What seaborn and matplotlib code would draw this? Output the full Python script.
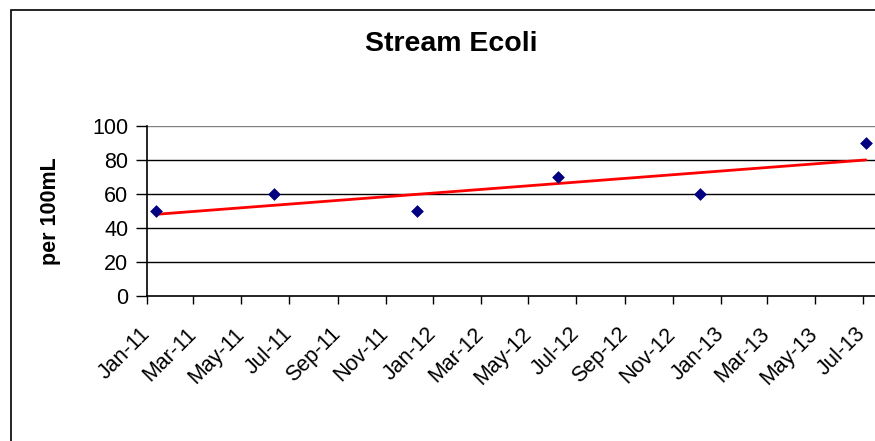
"""Stream Ecoli scatter with linear trendline, Excel style."""

import matplotlib

matplotlib.use("Agg")

import matplotlib.dates as mdates
import matplotlib.pyplot as plt
import numpy as np
import pandas as pd
import seaborn as sns
from matplotlib.patches import Rectangle

sample_dates = ["2011-01-13", "2011-06-12", "2011-12-11", "2012-06-08", "2012-12-06", "2013-07-05"]
ecoli_values = [50, 60, 50, 70, 60, 90]
y_ticks = [0, 20, 40, 60, 80, 100]

df = pd.DataFrame({"date": pd.to_datetime(sample_dates), "ecoli": ecoli_values})

# linear trendline, like the Excel one
xnum = mdates.date2num(df["date"])
slope, intercept = np.polyfit(xnum, df["ecoli"], 1)
trend = pd.DataFrame({"date": df["date"], "fit": slope * xnum + intercept})

sns.set_style("white")
plt.rcParams["font.family"] = ["Liberation Sans", "DejaVu Sans"]
plt.rcParams["text.color"] = "black"
plt.rcParams["axes.labelcolor"] = "black"
plt.rcParams["xtick.color"] = "black"
plt.rcParams["ytick.color"] = "black"

fig = plt.figure(figsize=(8.75, 4.41), dpi=100)
W, H = 875, 441
left_px, right_px = 147, 887
ax = fig.add_axes([left_px / W, 1 - 296 / H, (right_px - left_px) / W, (296 - 126) / H])

# chart border (cropped on right/bottom like the reference)
fig.patches.append(Rectangle((11 / W, -0.1), 1.2, 1 - 9.5 / H + 0.1, transform=fig.transFigure,
                             fill=False, edgecolor="black", linewidth=1.2))

for yv in y_ticks[1:]:
    ax.axhline(yv, color="#808080" if yv == 100 else "black", linewidth=1.0, zorder=1)

sns.lineplot(data=trend, x="date", y="fit", color="red", linewidth=2.0, ax=ax, zorder=2)
sns.scatterplot(data=df, x="date", y="ecoli", marker="D", s=36, color="#000080",
                edgecolor="#000080", ax=ax, zorder=3)

ax.set_xlim(pd.Timestamp("2011-01-01"), pd.Timestamp("2013-08-01"))
ax.set_ylim(0, 100)
ax.set_yticks(y_ticks)
ax.xaxis.set_major_locator(mdates.MonthLocator(bymonth=[1, 3, 5, 7, 9, 11]))
ax.xaxis.set_major_formatter(mdates.DateFormatter("%b-%y"))

for side in ["top", "right"]:
    ax.spines[side].set_visible(False)
for side in ["left", "bottom"]:
    ax.spines[side].set_color("black")
    ax.spines[side].set_linewidth(1.2)

ax.tick_params(axis="y", direction="out", length=8, width=1, pad=5.5,
               labelsize=15.5, left=True)
ax.tick_params(axis="x", direction="out", length=6, width=1, pad=19,
               labelsize=15.5, bottom=True)
for lbl in ax.get_xticklabels():
    lbl.set_rotation(45)
    lbl.set_ha("right")
    lbl.set_va("center")
    lbl.set_rotation_mode("anchor")

ax.set_xlabel("")
ax.set_ylabel("per 100mL", fontsize=15.5, fontweight="bold", labelpad=0)
ax.yaxis.set_label_coords((51 - left_px) / (right_px - left_px), 0.5)
ax.yaxis.label.set_va("center")
fig.text(451 / W, 1 - 44 / H, "Stream Ecoli", ha="center", va="center",
         fontsize=20.5, fontweight="bold")

fig.savefig("out.png", dpi=100)
